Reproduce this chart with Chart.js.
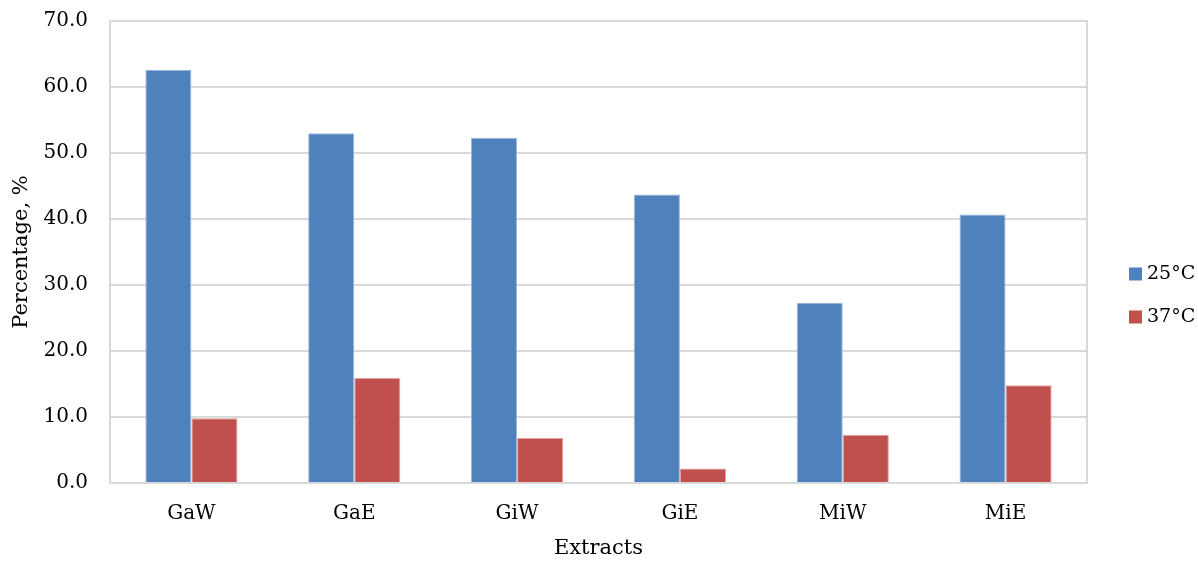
<!DOCTYPE html>
<html>
<head>
<meta charset="utf-8">
<script src="https://cdn.jsdelivr.net/npm/chart.js@4"></script>
<style>
  html, body { margin: 0; padding: 0; background: #fff; }
  #wrap { width: 1198px; height: 561px; }
</style>
</head>
<body>
<div id="wrap"><canvas id="extractChart"></canvas></div>
<script>
// Chart data
const extracts = ['GaW', 'GaE', 'GiW', 'GiE', 'MiW', 'MiE'];
const values25 = [62.6, 53.0, 52.3, 43.7, 27.3, 40.7];
const values37 = [9.8, 15.9, 6.8, 2.2, 7.3, 14.8];
const seriesLabels = ['25°C', '37°C'];

const fontFamily = '"DejaVu Serif", "Liberation Serif", serif';

// box around the plot area
const plotBorder = {
  id: 'plotBorder',
  beforeDatasetsDraw(chart) {
    const a = chart.chartArea;
    const ctx = chart.ctx;
    ctx.save();
    ctx.strokeStyle = '#d9d9d9';
    ctx.lineWidth = 2;
    ctx.strokeRect(a.left, a.top, a.right - a.left, a.bottom - a.top);
    ctx.restore();
  }
};

// legend on the right
const sideLegend = {
  id: 'sideLegend',
  afterDraw(chart) {
    const a = chart.chartArea;
    const ctx = chart.ctx;
    const x = a.right + 42;
    const mid = (a.top + a.bottom) / 2;
    const step = 43;
    ctx.save();
    ctx.font = '19px ' + fontFamily;
    ctx.textBaseline = 'middle';
    chart.data.datasets.forEach((ds, i) => {
      const y = mid + 43 + (i - 0.5) * step;
      ctx.fillStyle = ds.backgroundColor;
      ctx.fillRect(x, y - 6, 13, 13);
      ctx.fillStyle = '#000';
      ctx.fillText(ds.label, x + 18, y + 1);
    });
    ctx.restore();
  }
};

const ctx = document.getElementById('extractChart').getContext('2d');
new Chart(ctx, {
  type: 'bar',
  data: {
    labels: extracts,
    datasets: [{
      label: seriesLabels[0],
      data: values25,
      backgroundColor: '#4f81bd',
      borderColor: '#9bb7da',
      borderWidth: 1
    }, {
      label: seriesLabels[1],
      data: values37,
      backgroundColor: '#c0504d',
      borderColor: '#e0a3a1',
      borderWidth: 1
    }]
  },
  options: {
    responsive: true,
    maintainAspectRatio: false,
    animation: false,
    layout: { padding: { top: 0, right: 111, left: 0, bottom: 0 } },
    datasets: {
      bar: { categoryPercentage: 0.566, barPercentage: 1.0 }
    },
    plugins: {
      legend: { display: false },
      tooltip: { enabled: false }
    },
    scales: {
      x: {
        grid: { display: false },
        border: { color: '#d9d9d9', width: 2 },
        ticks: {
          font: { family: fontFamily, size: 20 },
          color: '#000',
          padding: 11
        },
        title: {
          display: true,
          text: 'Extracts',
          font: { family: fontFamily, size: 21 },
          color: '#000',
          padding: { top: 0, bottom: 0 }
        },
        afterFit: s => { s.height = 78; }
      },
      y: {
        min: 0,
        max: 70,
        ticks: {
          stepSize: 10,
          font: { family: fontFamily, size: 20 },
          color: '#000',
          padding: 22,
          callback: v => v.toFixed(1)
        },
        grid: { color: '#d9d9d9', lineWidth: 2, drawTicks: false },
        border: { color: '#d9d9d9', width: 2 },
        title: {
          display: true,
          text: 'Percentage, %',
          font: { family: fontFamily, size: 21 },
          color: '#000',
          padding: { top: 9, bottom: 0 }
        },
        afterFit: s => { s.width = 110; s.paddingTop = 21; }
      }
    }
  },
  plugins: [plotBorder, sideLegend]
});
</script>
</body>
</html>
